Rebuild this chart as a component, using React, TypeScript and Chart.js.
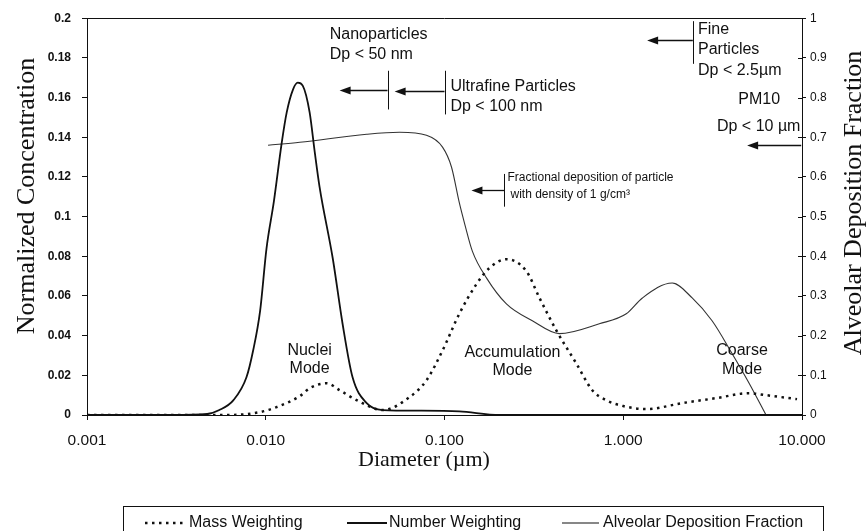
import React, { useEffect, useRef } from 'react';
import { Chart, registerables } from 'chart.js';

Chart.register(...registerables);

// ---------- data ----------
const numberDiam = [0.001, 0.003, 0.0047, 0.0055, 0.0066, 0.0078, 0.0085, 0.0093, 0.0101, 0.0111, 0.0123, 0.0131, 0.0142, 0.0151, 0.0161, 0.0176, 0.0188, 0.0200, 0.0237, 0.0269, 0.0306, 0.0367, 0.0451, 0.0725, 0.121, 0.203, 1, 10];
const numberConc = [0, 0, 0.0005, 0.0025, 0.0075, 0.019, 0.0325, 0.0525, 0.084, 0.1075, 0.1375, 0.1525, 0.164, 0.1675, 0.166, 0.1525, 0.1325, 0.115, 0.079, 0.046, 0.019, 0.006, 0.0025, 0.0022, 0.0018, 0, 0, 0];

const massDiam = [0.001, 0.0063, 0.0093, 0.0115, 0.0155, 0.0176, 0.0219, 0.0259, 0.0322, 0.0451, 0.0637, 0.0793, 0.0975, 0.121, 0.151, 0.178, 0.222, 0.287, 0.340, 0.423, 0.546, 0.671, 0.80, 1.0, 1.35, 2.14, 3.31, 5.06, 6.29, 9.38];
const massConc = [0, 0, 0.0015, 0.004, 0.0095, 0.0135, 0.016, 0.0125, 0.0075, 0.0025, 0.009, 0.0175, 0.0325, 0.051, 0.066, 0.074, 0.0785, 0.0725, 0.059, 0.0425, 0.026, 0.0125, 0.0075, 0.0045, 0.003, 0.006, 0.0085, 0.011, 0.010, 0.008];

const alvDiam = [0.0103, 0.0155, 0.0367, 0.0561, 0.0793, 0.0975, 0.1094, 0.121, 0.130, 0.1433, 0.172, 0.222, 0.310, 0.439, 0.735, 1.04, 1.28, 1.88, 2.43, 3.14, 4.06, 5.06, 6.29];
const alvFrac = [0.68, 0.6875, 0.7075, 0.7125, 0.705, 0.675, 0.625, 0.535, 0.48, 0.4125, 0.345, 0.28, 0.2375, 0.205, 0.23, 0.255, 0.295, 0.3325, 0.295, 0.2375, 0.155, 0.08, 0.0];

const xTickValues = [0.001, 0.01, 0.1, 1, 10];
const xTickLabels = ['0.001', '0.010', '0.100', '1.000', '10.000'];
const leftTickLabels = ['0', '0.02', '0.04', '0.06', '0.08', '0.1', '0.12', '0.14', '0.16', '0.18', '0.2'];
const rightTickLabels = ['0', '0.1', '0.2', '0.3', '0.4', '0.5', '0.6', '0.7', '0.8', '0.9', '1'];

const seriesNames = ['Mass Weighting', 'Number Weighting', 'Alveolar Deposition Fraction'];

// annotations (in data units: diameter, left-axis concentration)
const noteTexts = [
  { text: 'Nanoparticles', d: 0.0228, v: 0.1915, align: 'left', size: 16 },
  { text: 'Dp < 50 nm', d: 0.0228, v: 0.1815, align: 'left', size: 16 },
  { text: 'Ultrafine Particles', d: 0.108, v: 0.1655, align: 'left', size: 16 },
  { text: 'Dp < 100 nm', d: 0.108, v: 0.1555, align: 'left', size: 16 },
  { text: 'Fine', d: 2.62, v: 0.1945, align: 'left', size: 16 },
  { text: 'Particles', d: 2.62, v: 0.184, align: 'left', size: 16 },
  { text: 'Dp < 2.5µm', d: 2.62, v: 0.1735, align: 'left', size: 16 },
  { text: 'PM10', d: 5.76, v: 0.159, align: 'center', size: 16 },
  { text: 'Dp < 10 µm', d: 9.8, v: 0.1455, align: 'right', size: 16 },
  { text: 'Fractional deposition of particle', d: 0.225, v: 0.1195, align: 'left', size: 12 },
  { text: 'with density of 1 g/cm³', d: 0.234, v: 0.111, align: 'left', size: 12 },
  { text: 'Nuclei', d: 0.0176, v: 0.0325, align: 'center', size: 16 },
  { text: 'Mode', d: 0.0176, v: 0.0235, align: 'center', size: 16 },
  { text: 'Accumulation', d: 0.24, v: 0.0315, align: 'center', size: 16 },
  { text: 'Mode', d: 0.24, v: 0.0225, align: 'center', size: 16 },
  { text: 'Coarse', d: 4.62, v: 0.0325, align: 'center', size: 16 },
  { text: 'Mode', d: 4.62, v: 0.023, align: 'center', size: 16 },
];
const noteBars = [
  { d: 0.048, v1: 0.1735, v2: 0.154 },
  { d: 0.1, v1: 0.1735, v2: 0.1515 },
  { d: 2.45, v1: 0.1985, v2: 0.177 },
  { d: 0.216, v1: 0.1215, v2: 0.105 },
];
const noteArrows = [
  { from: 0.048, to: 0.0259, v: 0.164 },
  { from: 0.1, to: 0.0526, v: 0.1635 },
  { from: 2.45, to: 1.36, v: 0.189 },
  { from: 9.9, to: 4.93, v: 0.136 },
  { from: 0.216, to: 0.1415, v: 0.1135 },
];

const SANS = "'Liberation Sans', Arial, Helvetica, sans-serif";
const SERIF = "'Liberation Serif', 'Times New Roman', Times, serif";
const INK = '#111';

const overlay = {
  id: 'overlay',
  afterDraw(chart: any) {
    const ctx = chart.ctx as CanvasRenderingContext2D;
    const { left, right, top, bottom } = chart.chartArea;
    const xs = chart.scales.x;
    const yl = chart.scales.y;
    const yr = chart.scales.y1;
    const line = (x1: number, y1: number, x2: number, y2: number) => {
      ctx.beginPath();
      ctx.moveTo(x1, y1);
      ctx.lineTo(x2, y2);
      ctx.stroke();
    };
    ctx.save();
    ctx.strokeStyle = INK;
    ctx.fillStyle = INK;
    ctx.lineWidth = 1;
    // top frame line
    line(left, Math.round(top) + 0.5, right, Math.round(top) + 0.5);
    // inner part of right axis ticks
    yr.ticks.forEach((t: any) => {
      const y = Math.round(yr.getPixelForValue(t.value)) + 0.5;
      line(right - 4, y, right, y);
    });

    // bars
    noteBars.forEach((b) => {
      const x = Math.round(xs.getPixelForValue(b.d)) + 0.5;
      line(x, yl.getPixelForValue(b.v1), x, yl.getPixelForValue(b.v2));
    });
    // arrows
    ctx.lineWidth = 1.3;
    noteArrows.forEach((a) => {
      const x1 = xs.getPixelForValue(a.from);
      const x2 = xs.getPixelForValue(a.to);
      const y = Math.round(yl.getPixelForValue(a.v)) + 0.5;
      line(x1, y, x2 + 8, y);
      ctx.beginPath();
      ctx.moveTo(x2, y);
      ctx.lineTo(x2 + 11, y - 4);
      ctx.lineTo(x2 + 11, y + 4);
      ctx.closePath();
      ctx.fill();
    });
    // texts
    ctx.textBaseline = 'middle';
    noteTexts.forEach((n) => {
      ctx.font = `${n.size}px ${SANS}`;
      ctx.textAlign = n.align as CanvasTextAlign;
      ctx.fillText(n.text, xs.getPixelForValue(n.d), yl.getPixelForValue(n.v));
    });

    // axis titles
    ctx.textAlign = 'center';
    ctx.font = `26px ${SERIF}`;
    ctx.save();
    ctx.translate(27, 196);
    ctx.rotate(-Math.PI / 2);
    ctx.fillText('Normalized Concentration', 0, 0);
    ctx.restore();
    ctx.save();
    ctx.translate(854, 203);
    ctx.rotate(-Math.PI / 2);
    ctx.fillText('Alveolar Deposition Fraction', 0, 0);
    ctx.restore();
    ctx.font = `22px ${SERIF}`;
    ctx.fillText('Diameter (µm)', 424, 460);

    // legend
    ctx.lineWidth = 1;
    ctx.strokeRect(123.5, 506.5, 700, 40);
    ctx.font = `16px ${SANS}`;
    ctx.textAlign = 'left';
    const ly = 523;
    // mass (dotted)
    ctx.save();
    ctx.lineWidth = 2.5;
    ctx.setLineDash([2.5, 4.5]);
    line(145, ly, 187, ly);
    ctx.restore();
    ctx.fillText(seriesNames[0], 189, ly);
    ctx.lineWidth = 2;
    line(347, ly, 387, ly);
    ctx.fillText(seriesNames[1], 389, ly);
    ctx.lineWidth = 1.2;
    line(562, ly, 599, ly);
    ctx.fillText(seriesNames[2], 603, ly);
    ctx.restore();
  },
};

export default function App() {
  const ref = useRef<HTMLCanvasElement | null>(null);
  useEffect(() => {
    if (!ref.current) return;
    const chart = new Chart(ref.current, {
      type: 'line',
      data: {
        datasets: [
          {
            label: seriesNames[0],
            data: massDiam.map((d, i) => ({ x: d, y: massConc[i] })),
            yAxisID: 'y',
            borderColor: INK,
            borderWidth: 2.5,
            borderDash: [2.5, 4.5],
            pointRadius: 0,
            cubicInterpolationMode: 'monotone',
            fill: false,
          },
          {
            label: seriesNames[1],
            data: numberDiam.map((d, i) => ({ x: d, y: numberConc[i] })),
            yAxisID: 'y',
            borderColor: INK,
            borderWidth: 1.8,
            pointRadius: 0,
            cubicInterpolationMode: 'monotone',
            fill: false,
          },
          {
            label: seriesNames[2],
            data: alvDiam.map((d, i) => ({ x: d, y: alvFrac[i] })),
            yAxisID: 'y1',
            borderColor: '#333',
            borderWidth: 1.1,
            pointRadius: 0,
            cubicInterpolationMode: 'monotone',
            fill: false,
          },
        ],
      },
      options: {
        animation: false,
        responsive: false,
        devicePixelRatio: 1,
        layout: { padding: { top: 15, left: 0, right: 0, bottom: 0 } },
        plugins: { legend: { display: false }, tooltip: { enabled: false } },
        scales: {
          x: {
            type: 'logarithmic',
            min: 0.001,
            max: 10,
            afterBuildTicks: (s: any) => {
              s.ticks = xTickValues.map((v) => ({ value: v }));
            },
            afterFit: (s: any) => {
              s.height = 116;
            },
            ticks: {
              autoSkip: false,
              maxRotation: 0,
              padding: 11,
              color: INK,
              font: { family: SANS, size: 15.5 },
              callback: (_v: any, i: number) => xTickLabels[i],
            },
            grid: { display: true, drawOnChartArea: false, drawTicks: true, tickLength: 5, color: INK },
            border: { display: true, color: INK, width: 1 },
          },
          y: {
            position: 'left',
            min: 0,
            max: 0.2,
            afterBuildTicks: (s: any) => {
              s.ticks = leftTickLabels.map((_l, i) => ({ value: i * 0.02 }));
            },
            afterFit: (s: any) => {
              s.width = 87;
            },
            ticks: {
              padding: 11,
              color: INK,
              font: { family: SANS, size: 12, weight: 'bold' },
              callback: (_v: any, i: number) => leftTickLabels[i],
            },
            grid: { display: true, drawOnChartArea: false, drawTicks: true, tickLength: 5, color: INK },
            border: { display: true, color: INK, width: 1 },
          },
          y1: {
            position: 'right',
            min: 0,
            max: 1,
            afterBuildTicks: (s: any) => {
              s.ticks = rightTickLabels.map((_l, i) => ({ value: i / 10 }));
            },
            afterFit: (s: any) => {
              s.width = 64;
            },
            ticks: {
              padding: 4,
              color: INK,
              font: { family: SANS, size: 12 },
              callback: (_v: any, i: number) => rightTickLabels[i],
            },
            grid: { display: true, drawOnChartArea: false, drawTicks: true, tickLength: 4, color: INK },
            border: { display: true, color: INK, width: 1 },
          },
        },
      },
      plugins: [overlay],
    } as any);
    return () => chart.destroy();
  }, []);

  return (
    <div style={{ position: 'fixed', left: 0, top: 0, width: 866, height: 531, background: '#fff' }}>
      <canvas ref={ref} width={866} height={531} style={{ display: 'block' }} />
    </div>
  );
}
